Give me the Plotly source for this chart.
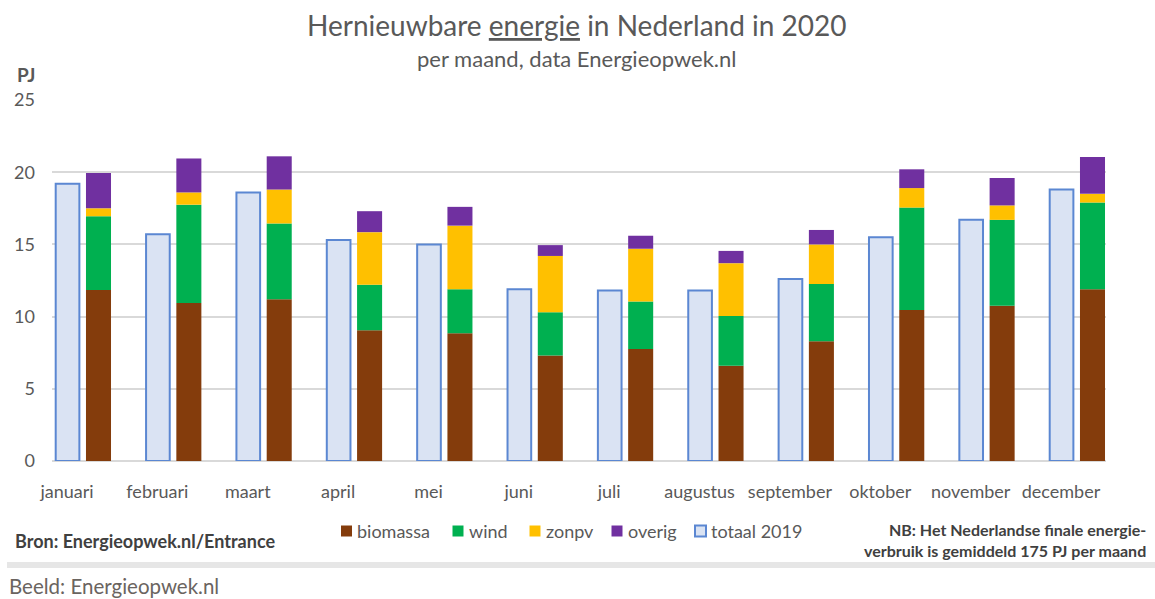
import numpy as np
import plotly.graph_objects as go

# ---------------- data ----------------
months = ["januari", "februari", "maart", "april", "mei", "juni", "juli",
          "augustus", "september", "oktober", "november", "december"]
totaal_2019 = [19.2, 15.7, 18.6, 15.3, 15.0, 11.9, 11.8, 11.8, 12.6, 15.5, 16.7, 18.8]
biomassa = [11.85, 10.95, 11.2, 9.05, 8.85, 7.3, 7.75, 6.6, 8.3, 10.45, 10.75, 11.9]
wind = [5.1, 6.8, 5.25, 3.15, 3.05, 3.0, 3.3, 3.45, 3.95, 7.1, 5.95, 6.0]
zonpv = [0.55, 0.85, 2.35, 3.65, 4.4, 3.9, 3.65, 3.65, 2.75, 1.35, 1.0, 0.6]
overig = [2.45, 2.35, 2.3, 1.45, 1.3, 0.75, 0.9, 0.85, 1.0, 1.3, 1.9, 2.55]
y_ticks = [0, 5, 10, 15, 20, 25]

series_names = ["biomassa", "wind", "zonpv", "overig"]
series_vals = [biomassa, wind, zonpv, overig]
series_cols = ["#843C0C", "#00B050", "#FFC000", "#7030A0"]
fill_2019 = "#DAE3F3"
line_2019 = "#5B87D2"
text_col = "#595959"
dark_col = "#404040"
FONT = "Lato"

# ---------------- layout geometry (pixels) ----------------
WIDTH, HEIGHT = 1155, 599
L, R, T, B = 52, 1106, 100, 461
PW, PH = R - L, B - T


def xp(px):
    return (px - L) / PW


def yp(py):
    return (B - py) / PH


x = np.arange(len(months))

fig = go.Figure()

fig.add_trace(go.Bar(
    x=x, y=totaal_2019, name="totaal 2019", width=0.262, offset=-0.302,
    marker=dict(color=fill_2019, line=dict(color=line_2019, width=2)),
    showlegend=False,
))

base = np.zeros(len(months))
for name, vals, col in zip(series_names, series_vals, series_cols):
    v = np.array(vals)
    fig.add_trace(go.Bar(
        x=x, y=v, base=base.copy(), name=name, width=0.277, offset=0.033,
        marker=dict(color=col, line=dict(width=0)), showlegend=False,
    ))
    base = base + v

annotations = []
shapes = []

# title & subtitle
annotations.append(dict(
    text='Hernieuwbare <span style="text-decoration:underline">energie</span> in Nederland in 2020',
    xref="paper", yref="paper", x=xp(577), y=yp(25), xanchor="center", yanchor="middle",
    showarrow=False, font=dict(family=FONT, size=28, color=text_col)))
annotations.append(dict(
    text="per maand, data Energieopwek.nl",
    xref="paper", yref="paper", x=xp(577), y=yp(58), xanchor="center", yanchor="middle",
    showarrow=False, font=dict(family=FONT, size=22, color=text_col)))
# axis unit
annotations.append(dict(
    text="<b>PJ</b>", xref="paper", yref="paper", x=xp(26), y=yp(74),
    xanchor="center", yanchor="middle", showarrow=False,
    font=dict(family=FONT, size=19, color=text_col)))

# legend (manual)
legend_items = [
    ("biomassa", 341, series_cols[0], series_cols[0]),
    ("wind", 452.5, series_cols[1], series_cols[1]),
    ("zonpv", 529.5, series_cols[2], series_cols[2]),
    ("overig", 611.5, series_cols[3], series_cols[3]),
    ("totaal 2019", 695, fill_2019, line_2019),
]
ly = 531
for label, sx, fc, lc in legend_items:
    shapes.append(dict(type="rect", xref="paper", yref="paper",
                       x0=xp(sx), x1=xp(sx + 11), y0=yp(ly + 5.5), y1=yp(ly - 5.5),
                       fillcolor=fc, line=dict(color=lc, width=2 if fc == fill_2019 else 0)))
    annotations.append(dict(text=label, xref="paper", yref="paper", x=xp(sx + 14), y=yp(ly),
                            xanchor="left", yanchor="middle", showarrow=False,
                            font=dict(family=FONT, size=18, color=text_col)))

# source & note
annotations.append(dict(
    text="<b>Bron: Energieopwek.nl/Entrance</b>", xref="paper", yref="paper",
    x=xp(13), y=yp(541), xanchor="left", yanchor="middle", showarrow=False,
    font=dict(family=FONT, size=18, color=dark_col)))
annotations.append(dict(
    text="<b>NB: Het Nederlandse finale energie-</b>", xref="paper", yref="paper",
    x=xp(1148), y=yp(529), xanchor="right", yanchor="middle", showarrow=False,
    font=dict(family=FONT, size=16, color=dark_col)))
annotations.append(dict(
    text="<b>verbruik is gemiddeld 175 PJ per maand</b>", xref="paper", yref="paper",
    x=xp(1148), y=yp(550), xanchor="right", yanchor="middle", showarrow=False,
    font=dict(family=FONT, size=16, color=dark_col)))

# separator and caption
shapes.append(dict(type="rect", xref="paper", yref="paper", x0=xp(7), x1=xp(1160),
                   y0=yp(568), y1=yp(562), fillcolor="#e6e6e6", line=dict(width=0)))
annotations.append(dict(
    text="Beeld: Energieopwek.nl", xref="paper", yref="paper",
    x=xp(7), y=yp(586), xanchor="left", yanchor="middle", showarrow=False,
    font=dict(family=FONT, size=20.5, color="#6a6460")))

fig.update_layout(
    width=WIDTH, height=HEIGHT,
    margin=dict(l=L, r=WIDTH - R, t=T, b=HEIGHT - B, pad=0),
    paper_bgcolor="white", plot_bgcolor="white",
    barmode="overlay", showlegend=False,
    annotations=annotations, shapes=shapes,
    font=dict(family=FONT, color=text_col),
    xaxis=dict(
        range=[-0.343, 11.321], tickmode="array",
        tickvals=[i - 0.177 for i in x], ticktext=months,
        showgrid=False, zeroline=False, showline=False, ticks="",
        tickfont=dict(family=FONT, size=18, color=text_col),
        ticklabelstandoff=18, fixedrange=True,
    ),
    yaxis=dict(
        range=[0, 25], tickmode="array", tickvals=y_ticks,
        showgrid=True, gridcolor="#d9d9d9", gridwidth=1.5,
        zeroline=True, zerolinecolor="#d9d9d9", zerolinewidth=1.5,
        showline=False, ticks="",
        tickfont=dict(family=FONT, size=18, color=text_col),
        ticklabelstandoff=16, fixedrange=True,
    ),
)

fig.write_html("out.html")
